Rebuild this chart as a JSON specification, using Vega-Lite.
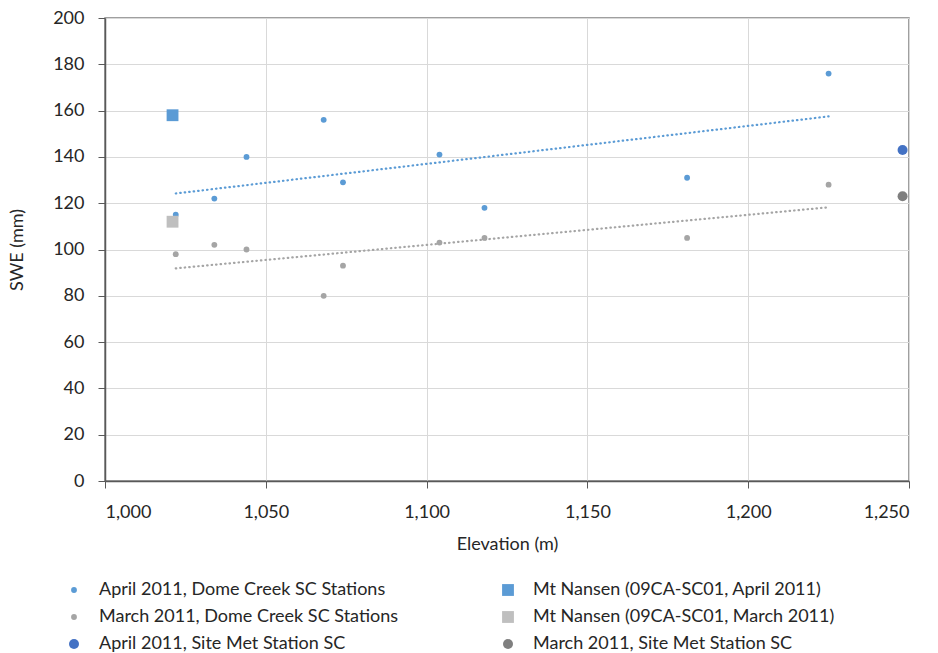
{
  "$schema": "https://vega.github.io/schema/vega-lite/v6.json",
  "autosize": {"type": "none"},
  "width": 804,
  "height": 463,
  "padding": {"left": 105, "top": 18, "right": 29, "bottom": 172},
  "background": "white",
  "config": {
    "font": "Lato",
    "view": {"stroke": "#808080", "strokeWidth": 1.5},
    "axis": {
      "labelFont": "Lato",
      "titleFont": "Lato",
      "labelFontSize": 18,
      "titleFontSize": 18,
      "labelColor": "#262626",
      "titleColor": "#262626",
      "titleFontWeight": "normal",
      "domainColor": "#595959",
      "tickColor": "#595959",
      "gridColor": "#D9D9D9",
      "domainWidth": 1.5,
      "tickSize": 7
    },
    "legend": {
      "labelFont": "Lato",
      "labelFontSize": 18,
      "labelColor": "#262626",
      "labelLimit": 400
    }
  },
  "data": {
    "values": [
      {"elev": 1022, "swe": 115, "series": "April 2011, Dome Creek SC Stations"},
      {"elev": 1034, "swe": 122, "series": "April 2011, Dome Creek SC Stations"},
      {"elev": 1044, "swe": 140, "series": "April 2011, Dome Creek SC Stations"},
      {"elev": 1068, "swe": 156, "series": "April 2011, Dome Creek SC Stations"},
      {"elev": 1074, "swe": 129, "series": "April 2011, Dome Creek SC Stations"},
      {"elev": 1104, "swe": 141, "series": "April 2011, Dome Creek SC Stations"},
      {"elev": 1118, "swe": 118, "series": "April 2011, Dome Creek SC Stations"},
      {"elev": 1181, "swe": 131, "series": "April 2011, Dome Creek SC Stations"},
      {"elev": 1225, "swe": 176, "series": "April 2011, Dome Creek SC Stations"},
      {"elev": 1022, "swe": 98, "series": "March 2011, Dome Creek SC Stations"},
      {"elev": 1034, "swe": 102, "series": "March 2011, Dome Creek SC Stations"},
      {"elev": 1044, "swe": 100, "series": "March 2011, Dome Creek SC Stations"},
      {"elev": 1068, "swe": 80, "series": "March 2011, Dome Creek SC Stations"},
      {"elev": 1074, "swe": 93, "series": "March 2011, Dome Creek SC Stations"},
      {"elev": 1104, "swe": 103, "series": "March 2011, Dome Creek SC Stations"},
      {"elev": 1118, "swe": 105, "series": "March 2011, Dome Creek SC Stations"},
      {"elev": 1181, "swe": 105, "series": "March 2011, Dome Creek SC Stations"},
      {"elev": 1225, "swe": 128, "series": "March 2011, Dome Creek SC Stations"},
      {"elev": 1021, "swe": 158, "series": "Mt Nansen (09CA-SC01, April 2011)"},
      {"elev": 1021, "swe": 112, "series": "Mt Nansen (09CA-SC01, March 2011)"},
      {"elev": 1248, "swe": 143, "series": "April 2011, Site Met Station SC"},
      {"elev": 1248, "swe": 123, "series": "March 2011, Site Met Station SC"}
    ]
  },
  "layer": [
    {
      "transform": [
        {"filter": "datum.series === 'April 2011, Dome Creek SC Stations'"},
        {"regression": "swe", "on": "elev"}
      ],
      "mark": {"type": "line", "color": "#5B9BD5", "strokeWidth": 2.2, "strokeDash": [0.5, 4], "strokeCap": "round"},
      "encoding": {
        "x": {"field": "elev", "type": "quantitative"},
        "y": {"field": "swe", "type": "quantitative"}
      }
    },
    {
      "transform": [
        {"filter": "datum.series === 'March 2011, Dome Creek SC Stations'"},
        {"regression": "swe", "on": "elev"}
      ],
      "mark": {"type": "line", "color": "#A5A5A5", "strokeWidth": 2.2, "strokeDash": [0.5, 4], "strokeCap": "round"},
      "encoding": {
        "x": {"field": "elev", "type": "quantitative"},
        "y": {"field": "swe", "type": "quantitative"}
      }
    },
    {
      "mark": {"type": "point", "filled": true, "opacity": 1},
      "encoding": {
        "x": {
          "field": "elev", "type": "quantitative", "title": "Elevation (m)",
          "scale": {"domain": [1000, 1250], "nice": false, "zero": false},
          "axis": {"values": [1000, 1050, 1100, 1150, 1200, 1250], "format": ",.0f", "labelPadding": 15, "titleY": 54}
        },
        "y": {
          "field": "swe", "type": "quantitative", "title": "SWE (mm)",
          "scale": {"domain": [0, 200], "nice": false},
          "axis": {"values": [0, 20, 40, 60, 80, 100, 120, 140, 160, 180, 200], "format": ".0f", "labelPadding": 14, "titleX": -79}
        },
        "color": {
          "field": "series", "type": "nominal",
          "scale": {
            "domain": ["April 2011, Dome Creek SC Stations", "March 2011, Dome Creek SC Stations", "April 2011, Site Met Station SC", "Mt Nansen (09CA-SC01, April 2011)", "Mt Nansen (09CA-SC01, March 2011)", "March 2011, Site Met Station SC"],
            "range": ["#5B9BD5", "#A5A5A5", "#4472C4", "#5B9BD5", "#BFBFBF", "#7F7F7F"]
          },
          "legend": {"title": null, "orient": "none", "legendX": -40, "legendY": 563, "columns": 2, "columnPadding": 100, "rowPadding": 9, "labelOffset": 16, "symbolOpacity": 1}
        },
        "shape": {
          "field": "series", "type": "nominal",
          "scale": {
            "domain": ["April 2011, Dome Creek SC Stations", "March 2011, Dome Creek SC Stations", "April 2011, Site Met Station SC", "Mt Nansen (09CA-SC01, April 2011)", "Mt Nansen (09CA-SC01, March 2011)", "March 2011, Site Met Station SC"],
            "range": ["circle", "circle", "circle", "square", "square", "circle"]
          },
          "legend": {"title": null, "orient": "none", "legendX": -40, "legendY": 563, "columns": 2, "columnPadding": 100, "rowPadding": 9, "labelOffset": 16, "symbolOpacity": 1}
        },
        "size": {
          "field": "series", "type": "nominal",
          "scale": {
            "type": "ordinal",
            "domain": ["April 2011, Dome Creek SC Stations", "March 2011, Dome Creek SC Stations", "April 2011, Site Met Station SC", "Mt Nansen (09CA-SC01, April 2011)", "Mt Nansen (09CA-SC01, March 2011)", "March 2011, Site Met Station SC"],
            "range": [34, 34, 100, 140, 140, 100]
          },
          "legend": {"title": null, "orient": "none", "legendX": -40, "legendY": 563, "columns": 2, "columnPadding": 100, "rowPadding": 9, "labelOffset": 16, "symbolOpacity": 1}
        }
      }
    }
  ]
}
